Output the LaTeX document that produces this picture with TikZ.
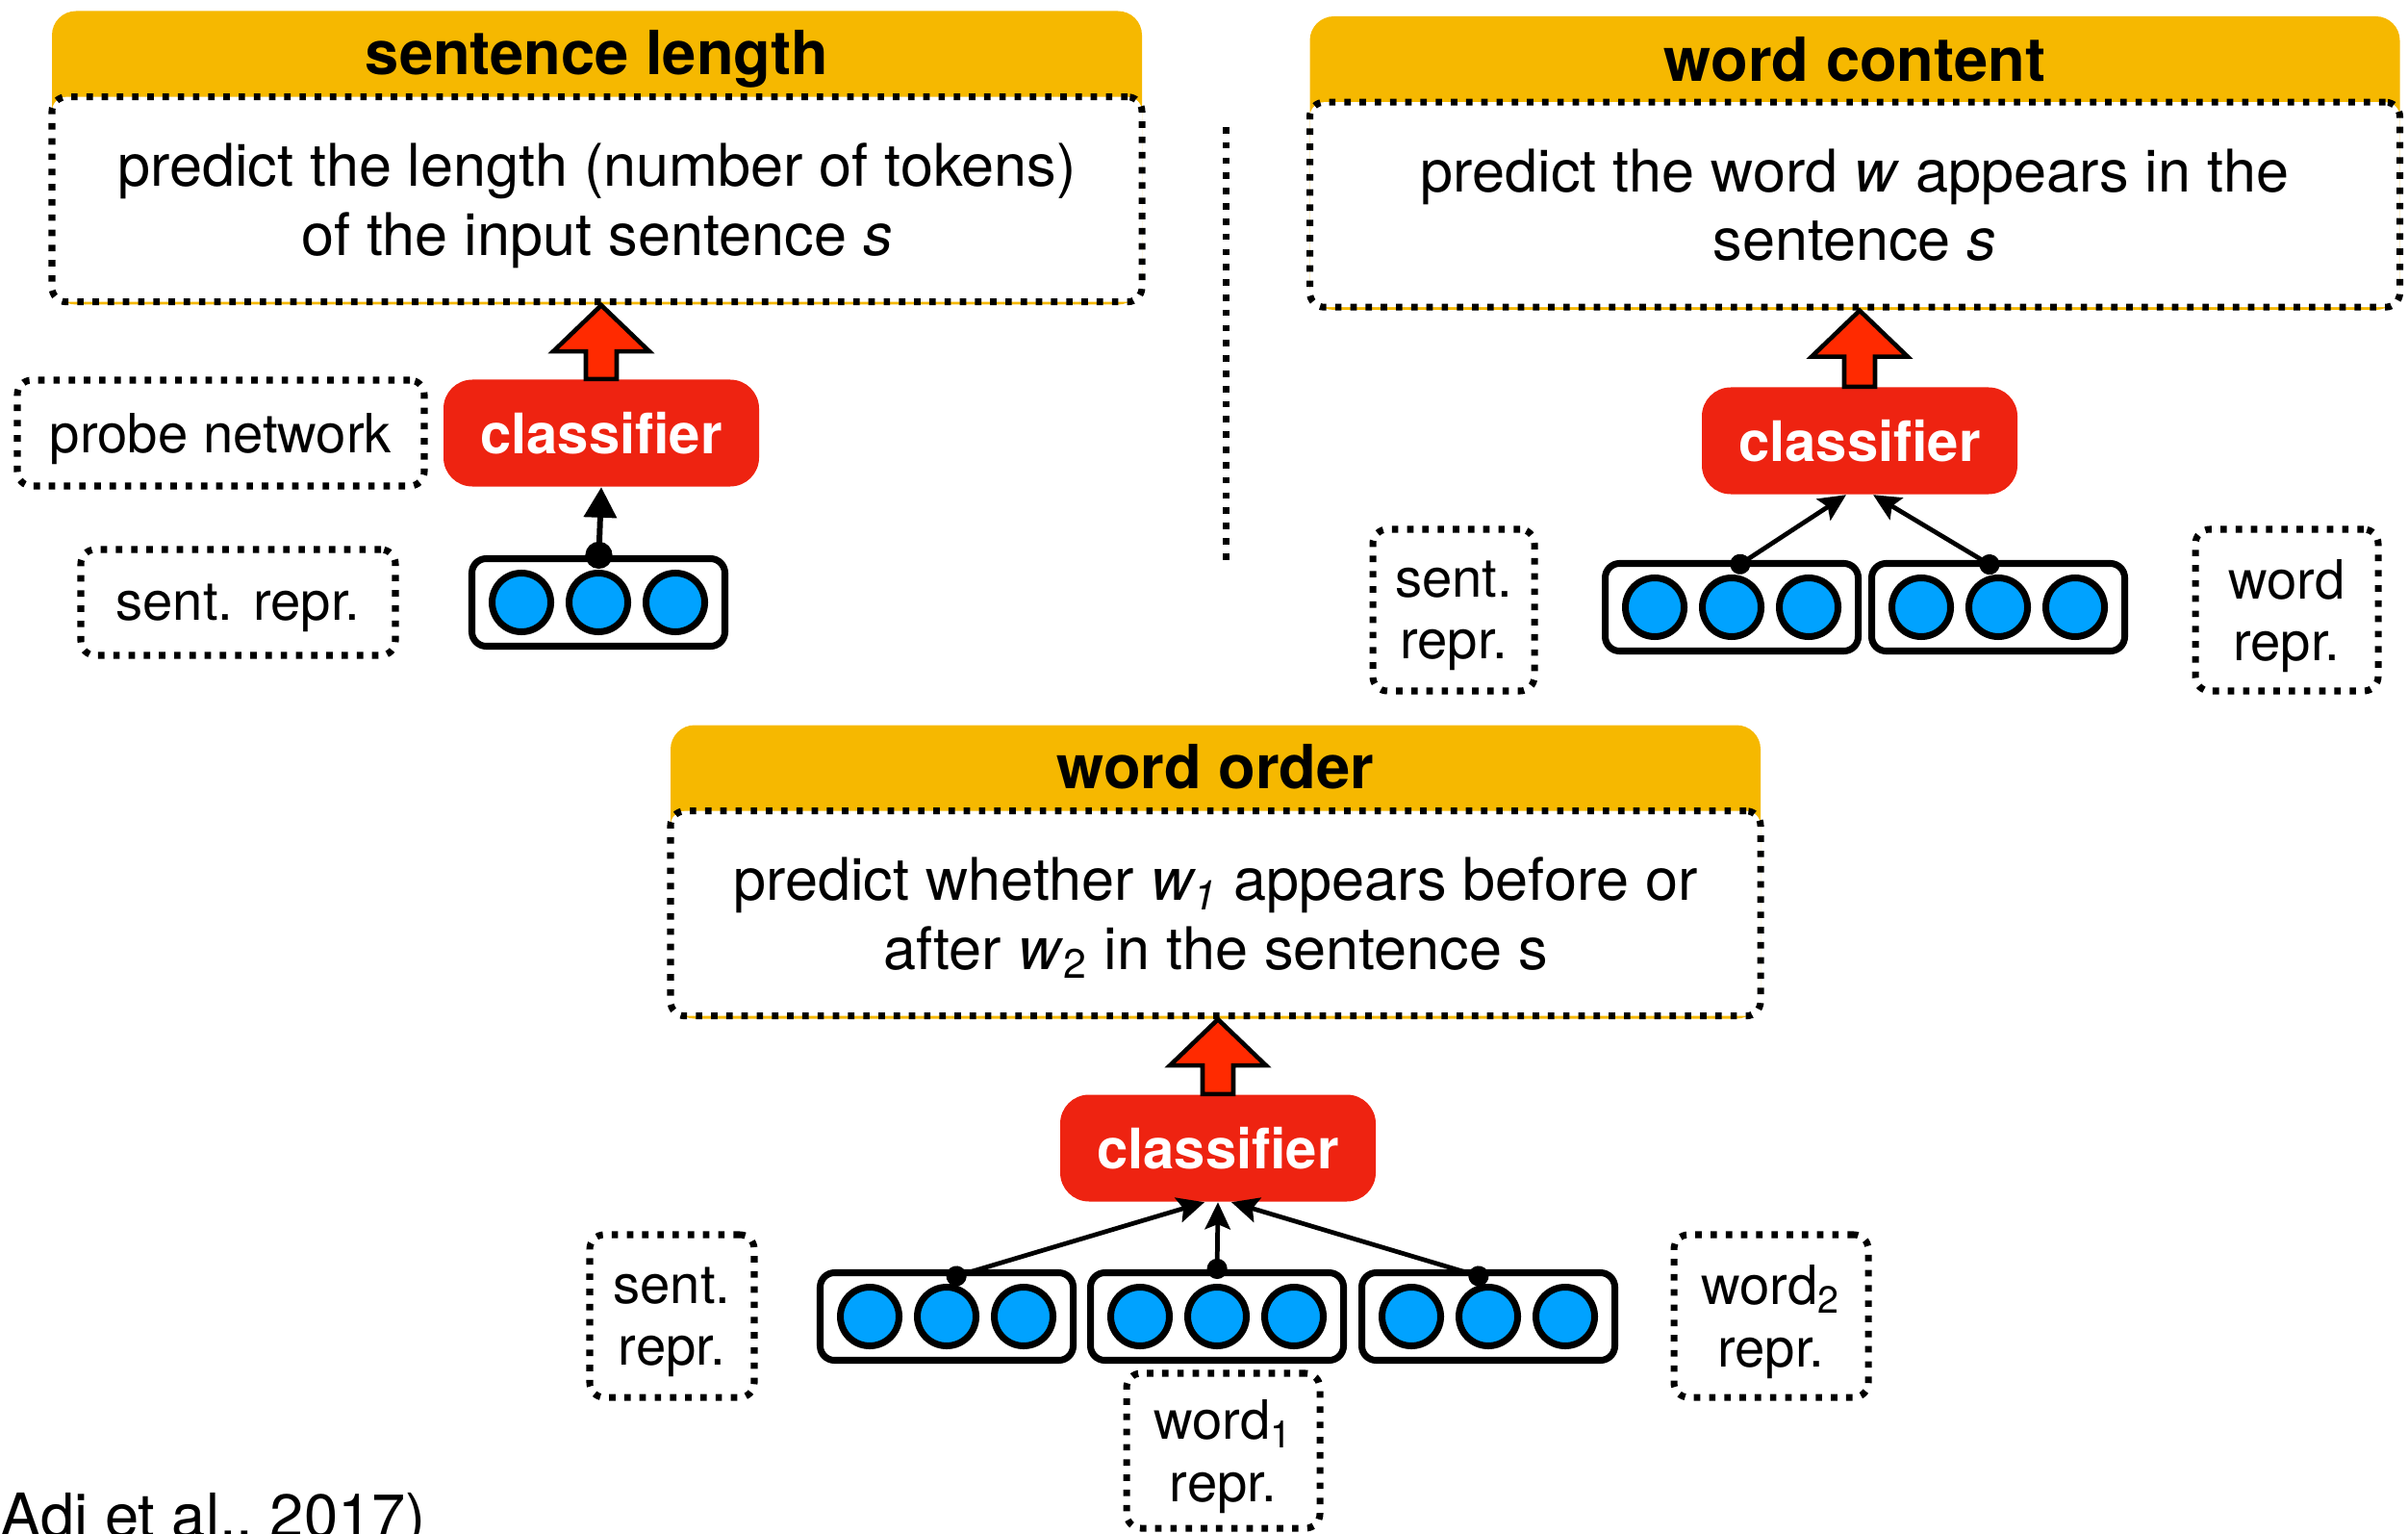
\documentclass[tikz,border=0pt]{standalone}
\usepackage{fontspec}
\setmainfont{TeX Gyre Heros}
\usepackage{xcolor}
\usepackage{tikz}
\usetikzlibrary{positioning}
\usetikzlibrary{shapes.geometric}
\usetikzlibrary{arrows.meta}
\usetikzlibrary{calc}
\definecolor{panelyellow}{HTML}{F6B800}
\definecolor{clfred}{HTML}{EE2311}
\definecolor{arrowred}{HTML}{FF2A00}
\definecolor{unitblue}{HTML}{00A2FF}
\tikzset{
    dotline/.style = {line width=2pt, dash pattern=on 1.9pt off 2.6pt},
    panel/.style = {fill=panelyellow, rounded corners=0.25cm, minimum width=11.33cm, minimum height=3.05cm, inner sep=0pt},
    task/.style = {draw=black, dotline, fill=white, rounded corners=0.15cm, align=center, minimum width=11.33cm, minimum height=2.13cm, inner sep=0pt, text depth=0pt, font=\fontsize{17.4}{20.3}\selectfont},
    title/.style = {text depth=0pt, font=\bfseries\fontsize{18}{21}\selectfont},
    clf/.style = {fill=clfred, rounded corners=0.3cm, text=white, minimum width=3.28cm, minimum height=1.11cm, inner sep=0pt, font=\bfseries\fontsize{16.5}{20}\selectfont},
    tag/.style = {draw=black, dotline, rounded corners=0.15cm, align=center, inner sep=0pt, text depth=0pt, font=\fontsize{16}{18.3}\selectfont},
    vec/.style = {draw=black, line width=2pt, fill=white, rounded corners=0.15cm, minimum width=2.63cm, minimum height=0.91cm, inner sep=0pt},
    unit/.style = {circle, draw=black, line width=2pt, fill=unitblue, minimum size=0.61cm, inner sep=0pt},
    link/.style = {line width=1.35pt, {Circle[length=6pt]}-{Stealth[length=8pt,width=7.5pt,inset=1.5pt]}},
    linkthick/.style = {line width=1.7pt, {Circle[length=8pt]}-{Triangle[length=9pt,width=9.5pt]}},
    fatarr/.style = {draw=black, line width=1.3pt, fill=arrowred, line join=miter},
}
% one vector: box and three units
\newcommand{\reprvec}[2]{%
  \node[vec] (#1) at (#2) {};
  \foreach \i/\dx in {1/-0.8,2/0,3/0.8}
    \node[unit] (#1-\i) at ([xshift=\dx cm]#1.center) {};
}
% fat red arrow from classifier #1 up to task box #2
\newcommand{\fatarrow}[2]{%
  \draw[fatarr] let \p1=(#1.north), \p2=(#2.south) in
    ({\x1-0.16cm},\y1) -- ({\x1-0.16cm},{\y2-0.48cm}) -- ({\x1-0.5cm},{\y2-0.48cm})
    -- (\x1,\y2) -- ({\x1+0.5cm},{\y2-0.48cm}) -- ({\x1+0.16cm},{\y2-0.48cm})
    -- ({\x1+0.16cm},\y1) -- cycle;
}

\begin{document}
\begin{tikzpicture}[
	font=\fontsize{16}{19.5}\selectfont
]
\useasboundingbox (0,0) rectangle (25.03,-15.94);

% sentence length
\node[panel] (lenPanel) at (6.205,-1.64) {};
\node[task, anchor=south] (lenTask) at (lenPanel.south) {predict the length (number of tokens)\\of the input sentence \textit{s}};
\node[title] (lenTitle) at ([yshift=-0.44cm]lenPanel.north) {sentence length};
\node[clf] (lenClf) at (6.25,-4.50) {classifier};
\node[tag, minimum width=4.23cm, minimum height=1.10cm] (probe) at (2.295,-4.50) {probe network};
\node[tag, minimum width=3.27cm, minimum height=1.10cm] (lenSent) at (2.475,-6.26) {sent. repr.};
\reprvec{lenVec}{6.22,-6.26}
\fatarrow{lenClf}{lenTask}
\draw[linkthick] ([yshift=-0.14cm]lenVec.north) -- (lenClf.south);

\path[draw,dotline] (12.74,-1.32) -- (12.74,-5.85);

% word content
\node[panel] (wcPanel) at (19.28,-1.695) {};
\node[task, anchor=south] (wcTask) at (wcPanel.south) {predict the word \textit{w} appears in the\\sentence \textit{s}};
\node[title] (wcTitle) at ([yshift=-0.45cm]wcPanel.north) {word content};
\node[clf] (wcClf) at (19.33,-4.58) {classifier};
\node[tag, minimum width=1.68cm, minimum height=1.68cm] (wcSent) at (15.11,-6.34) {sent.\\repr.};
\node[tag, minimum width=1.90cm, minimum height=1.68cm] (wcWord) at (23.77,-6.34) {word\\repr.};
\reprvec{wcVecS}{18.0,-6.31}
\reprvec{wcVecW}{20.77,-6.31}
\fatarrow{wcClf}{wcTask}
\draw[link] ([yshift=-0.1cm]wcVecS.north) -- ([xshift=-0.14cm]wcClf.south);
\draw[link] ([yshift=-0.1cm]wcVecW.north) -- ([xshift=0.14cm]wcClf.south);

% word order
\node[panel] (woPanel) at (12.635,-9.06) {};
\node[task, anchor=south] (woTask) at (woPanel.south) {predict whether \textit{w\textsubscript{1}} appears before or\\after \textit{w}\textsubscript{2} in the sentence s};
\node[title] (woTitle) at ([yshift=-0.44cm]woPanel.north) {word order};
\node[clf] (woClf) at (12.66,-11.93) {classifier};
\node[tag, minimum width=1.71cm, minimum height=1.69cm] (woSent) at (6.985,-13.675) {sent.\\repr.};
\node[tag, minimum width=2.01cm, minimum height=1.61cm] (woWordA) at (12.715,-15.075) {word\textsubscript{1}\\repr.};
\node[tag, minimum width=2.02cm, minimum height=1.69cm] (woWordB) at (18.41,-13.675) {word\textsubscript{2}\\repr.};
\reprvec{woVecS}{9.84,-13.68}
\reprvec{woVecA}{12.65,-13.68}
\reprvec{woVecB}{15.47,-13.68}
\fatarrow{woClf}{woTask}
\draw[link] ([yshift=-0.1cm]woVecS.north) -- ([xshift=-0.14cm]woClf.south);
\draw[link] ([yshift=-0.1cm]woVecA.north) -- (woClf.south);
\draw[link] ([yshift=-0.1cm]woVecB.north) -- ([xshift=0.14cm]woClf.south);

\node[anchor=base west, inner sep=0pt, font=\fontsize{18}{21}\selectfont] (cite) at (-0.21,-15.97) {(Adi et al., 2017)};

\end{tikzpicture}
\end{document}
